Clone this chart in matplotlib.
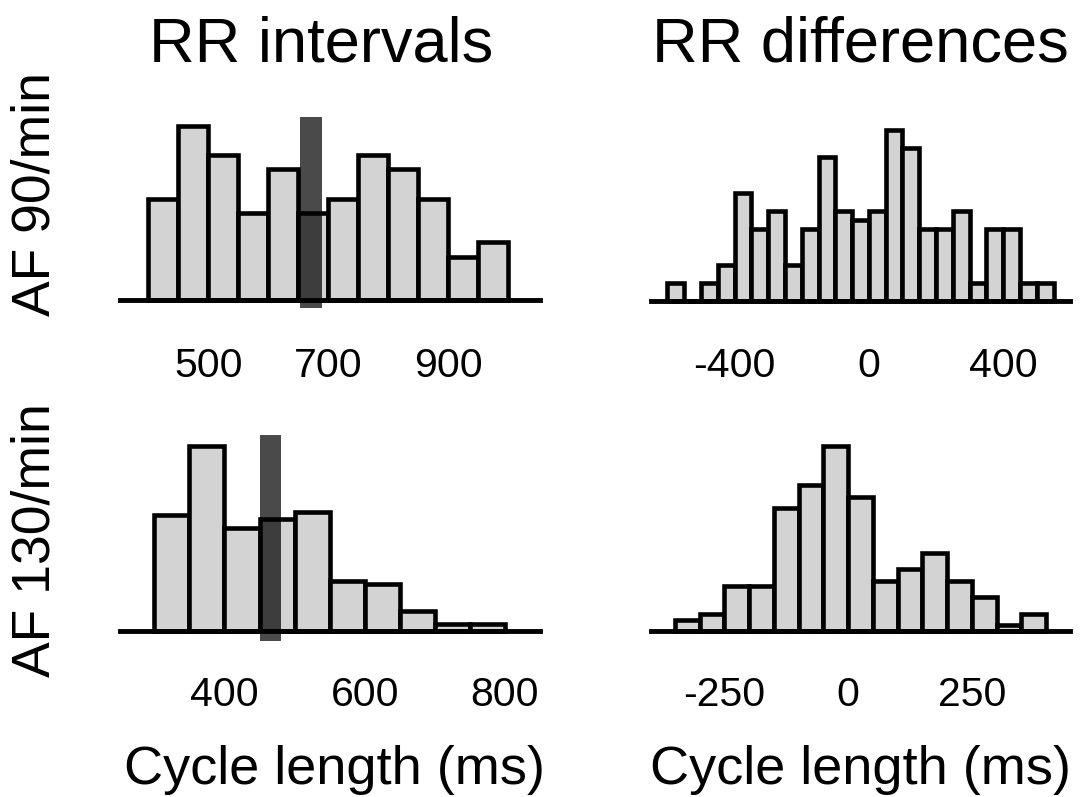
import matplotlib.pyplot as plt

plt.rcParams['font.family'] = ['Liberation Sans', 'DejaVu Sans']
plt.rcParams['axes.unicode_minus'] = False

W, H = 1089, 797

# histogram bins (left edge, ms) and heights
rr90_bins = [400, 450, 500, 550, 600, 650, 700, 750, 800, 850, 900, 950]
rr90_counts = [7, 12, 10, 6, 9, 6, 7, 10, 9, 7, 3, 4]
rr90_band = [653, 690]
rr90_ticks = [500, 700, 900]

drr90_bins = [-600, -550, -500, -450, -400, -350, -300, -250, -200, -150, -100, -50,
              0, 50, 100, 150, 200, 250, 300, 350, 400, 450, 500]
drr90_counts = [2, 0, 2, 4, 12, 8, 10, 4, 8, 16, 10, 9,
                10, 19, 17, 8, 8, 10, 2, 8, 8, 2, 2]
drr90_ticks = [-400, 0, 400]

rr130_bins = [300, 350, 400, 450, 500, 550, 600, 650, 700, 750]
rr130_counts = [18.3, 29.2, 16.2, 17.7, 18.8, 7.9, 7.3, 3.1, 1.0, 1.0]
rr130_band = [450, 481]
rr130_ticks = [400, 600, 800]

drr130_bins = [-350, -300, -250, -200, -150, -100, -50, 0, 50, 100, 150, 200, 250, 300, 350]
drr130_counts = [2, 3, 8, 8, 22, 26, 33, 24, 9, 11, 14, 9, 6, 1, 3]
drr130_ticks = [-250, 0, 250]

bin_width = 50

fig = plt.figure(figsize=(W / 100, H / 100), dpi=100)


def add_panel(box, xlim, ylim, bins, counts, ticks, pad, band=None):
    x0, y0, x1, y1 = box
    ax = fig.add_axes([x0 / W, 1 - y1 / H, (x1 - x0) / W, (y1 - y0) / H])
    ax.bar(bins, counts, width=bin_width, align='edge', color='#d3d3d3',
           edgecolor='black', linewidth=3.3, zorder=2)
    if band is not None:
        ax.axvspan(band[0], band[1], color='black', alpha=0.71, lw=0, zorder=3)
    ax.set_xlim(*xlim)
    ax.set_ylim(*ylim)
    for s in ['top', 'left', 'right']:
        ax.spines[s].set_visible(False)
    ax.spines['bottom'].set_position(('data', 0))
    ax.spines['bottom'].set_linewidth(3.5)
    ax.set_yticks([])
    ax.set_xticks(ticks)
    ax.tick_params(axis='x', length=0, pad=pad, labelsize=29.5)
    ax.patch.set_alpha(0)
    return ax


add_panel((120, 117, 540, 308), (353, 1053), (-0.55, 12.62),
          rr90_bins, rr90_counts, rr90_ticks, 33.5, rr90_band)
add_panel((651, 117, 1070, 308), (-649, 599), (-0.81, 20.4),
          drr90_bins, drr90_counts, drr90_ticks, 33.5)
add_panel((120, 435, 540, 641), (251, 850), (-1.63, 30.9),
          rr130_bins, rr130_counts, rr130_ticks, 32.5, rr130_band)
add_panel((651, 435, 1070, 641), (-398.5, 448.5), (-1.79, 35.0),
          drr130_bins, drr130_counts, drr130_ticks, 32.5)

# column titles
fig.text(321 / W, 1 - 62 / H, 'RR intervals', fontsize=45.5, ha='center', va='baseline')
fig.text(860 / W, 1 - 62 / H, 'RR differences', fontsize=45.5, ha='center', va='baseline')

# row labels
fig.text(36 / W, 1 - 194 / H, 'AF 90/min', fontsize=38.5, rotation=90, ha='center', va='center')
fig.text(36 / W, 1 - 540 / H, 'AF 130/min', fontsize=38.5, rotation=90, ha='center', va='center')

# x labels
fig.text(334 / W, 1 - 784 / H, 'Cycle length (ms)', fontsize=39, ha='center', va='baseline')
fig.text(860 / W, 1 - 784 / H, 'Cycle length (ms)', fontsize=39, ha='center', va='baseline')

fig.savefig('out.png', dpi=100)
